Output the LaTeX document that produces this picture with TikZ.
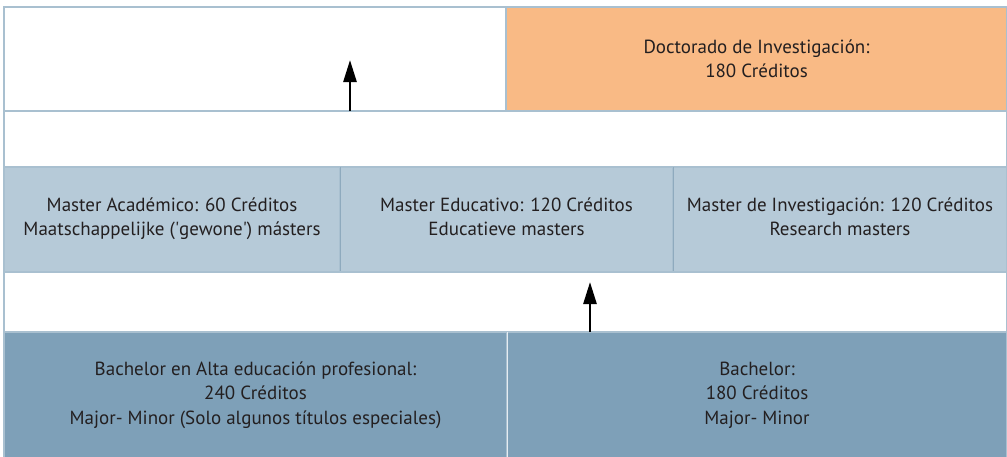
\documentclass[tikz,border=0pt]{standalone}
\usepackage{fontspec}
\setmainfont{PT Sans}
\usetikzlibrary{arrows.meta}
\definecolor{orangebox}{HTML}{F9BA85}
\definecolor{lightblue}{HTML}{B6CAD8}
\definecolor{darkblue}{HTML}{7EA0B8}
\definecolor{edge}{HTML}{A9C0D0}
\definecolor{divider}{HTML}{8EAABE}
\definecolor{txt}{HTML}{231F20}
\tikzset{
  cell/.style={draw=edge, line width=1.2pt, inner sep=0pt, outer sep=0pt, align=center,
    text=txt, font=\fontsize{19}{24.5}\selectfont},
  upar/.style={line width=2.6pt, draw=black, -{Triangle[length=22pt,width=13pt]}}
}
\begin{document}
\begin{tikzpicture}[x=1pt,y=-1pt]
\useasboundingbox[fill=white] (0,0) rectangle (1007,456);
% top row
\node[cell, fill=white, minimum width=502pt, minimum height=104pt] (topwhite) at (255,59) {};
\node[cell, fill=orangebox, minimum width=501pt, minimum height=104pt] (doct) at (756.5,59)
  {Doctorado de Investigación:\\180 Créditos};
% band
\node[cell, fill=white, minimum width=1003pt, minimum height=56pt] (band1) at (505.5,139) {};
% masters
\node[cell, fill=lightblue, minimum width=336pt, minimum height=105pt] (m1) at (172,219.5)
  {Master Académico: 60 Créditos\\Maatschappelijke (\textquotesingle gewone\textquotesingle) másters\\[-18.5pt]};
\node[cell, fill=lightblue, minimum width=333pt, minimum height=105pt] (m2) at (506.5,219.5)
  {Master Educativo: 120 Créditos\\Educatieve masters\\[-18.5pt]};
\node[cell, fill=lightblue, minimum width=334pt, minimum height=105pt] (m3) at (840,219.5)
  {Master de Investigación: 120 Créditos\\Research masters\\[-18.5pt]};
\draw[divider, line width=1pt] (m1.north east) -- (m1.south east);
\draw[divider, line width=1pt] (m2.north east) -- (m2.south east);
% band
\node[cell, fill=white, minimum width=1003pt, minimum height=60pt] (band2) at (505.5,302) {};
% bachelors
\node[cell, fill=darkblue, minimum width=503pt, minimum height=126pt] (b1) at (255.5,395)
  {Bachelor en Alta educación profesional:\\240 Créditos\\Major- Minor (Solo algunos títulos especiales)};
\node[cell, fill=darkblue, minimum width=500pt, minimum height=126pt] (b2) at (757,395)
  {Bachelor:\\180 Créditos\\Major- Minor};
\draw[white!80!darkblue, line width=1pt] (b1.north east) -- (b1.south east);
% arrows
\coordinate (tip1) at (350,60);
\coordinate (tip2) at (590,282);
\draw[upar] (tip1 |- topwhite.south) -- (tip1);
\draw[upar] (tip2 |- b1.north) -- (tip2);
\end{tikzpicture}
\end{document}
